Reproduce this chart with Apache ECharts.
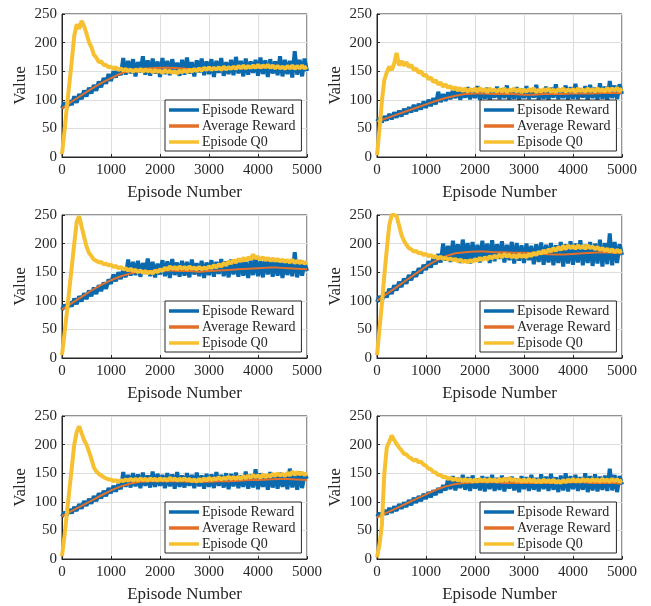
<!DOCTYPE html>
<html>
<head>
<meta charset="utf-8">
<script src="https://cdn.jsdelivr.net/npm/echarts@6/dist/echarts.min.js"></script>
<style>
  html, body { margin: 0; padding: 0; background: #fff; }
  #chart { width: 651px; height: 606px; }
</style>
</head>
<body>
<div id="chart"></div>
<script>
// sampling of the arrays below (episodes between two values)
const rewardStep = 50;
const avgStep = 200;

const xTicks = [0, 1000, 2000, 3000, 4000, 5000];
const yTicks = [0, 50, 100, 150, 200, 250];
const seriesNames = ['Episode Reward', 'Average Reward', 'Episode Q0'];

// ---- panel 1 (top left)
const reward1 = [
  85, 95, 86, 99, 91, 106, 95, 110, 101, 116,
  106, 121, 111, 126, 116, 132, 122, 138, 128, 145,
  133, 150, 139, 155, 143, 173, 144, 168, 146, 171,
  141, 166, 148, 176, 144, 169, 142, 172, 146, 167,
  140, 173, 145, 168, 143, 171, 147, 165, 142, 170,
  144, 174, 146, 166, 141, 169, 148, 172, 143, 167,
  145, 171, 140, 168, 147, 173, 142, 166, 145, 170,
  143, 175, 146, 168, 141, 172, 144, 167, 147, 170,
  142, 174, 145, 169, 140, 171, 146, 167, 143, 176,
  141, 170, 145, 168, 139, 185, 144, 170, 141, 172,
  150
];
const avgReward1 = [85, 97, 108, 119, 129, 138, 146, 151, 154, 155, 156, 156, 155, 154, 154, 154, 155, 155, 156, 156, 156, 157, 156, 155, 155, 156];
const q0_1 = [
  5, 45, 88, 128, 168, 212, 232, 224, 238, 229,
  216, 201, 192, 179, 174, 166, 167, 161, 161, 157,
  158, 154, 157, 152, 155, 151, 154, 150, 153, 149,
  153, 150, 154, 149, 153, 150, 152, 148, 152, 149,
  151, 147, 152, 148, 151, 147, 150, 146, 151, 148,
  152, 148, 153, 149, 154, 150, 155, 151, 156, 152,
  157, 152, 156, 153, 157, 152, 158, 153, 157, 154,
  158, 154, 159, 155, 160, 155, 159, 156, 160, 156,
  161, 156, 160, 157, 161, 156, 160, 155, 159, 155,
  158, 154, 159, 155, 160, 154, 159, 155, 160, 155,
  158
];

// ---- panel 2 (top right)
const reward2 = [
  62, 68, 61, 71, 64, 75, 66, 78, 69, 81,
  71, 84, 75, 87, 78, 91, 80, 93, 83, 97,
  86, 100, 89, 103, 92, 114, 96, 110, 98, 113,
  101, 118, 103, 121, 100, 117, 104, 122, 101, 119,
  103, 124, 100, 118, 102, 121, 99, 117, 104, 123,
  101, 120, 103, 125, 100, 118, 102, 122, 99, 119,
  103, 124, 101, 120, 104, 126, 100, 118, 102, 123,
  100, 121, 104, 127, 101, 119, 103, 125, 100, 122,
  102, 128, 101, 120, 104, 124, 99, 126, 103, 121,
  100, 129, 102, 123, 98, 133, 103, 125, 101, 127,
  110
];
const avgReward2 = [62, 68, 74, 80, 86, 92, 98, 103, 107, 110, 111, 111, 110, 110, 110, 109, 109, 110, 110, 110, 111, 111, 111, 112, 112, 112];
const q0_2 = [
  3, 48, 98, 135, 148, 158, 152, 163, 182, 160,
  168, 160, 166, 157, 161, 152, 155, 147, 150, 142,
  144, 136, 139, 131, 134, 127, 130, 123, 127, 121,
  124, 118, 122, 116, 121, 115, 120, 114, 119, 115,
  120, 114, 121, 115, 119, 113, 120, 115, 118, 114,
  119, 114, 120, 113, 118, 115, 120, 114, 119, 113,
  118, 114, 119, 115, 120, 113, 118, 114, 119, 115,
  120, 114, 118, 113, 119, 115, 120, 114, 118, 115,
  119, 113, 120, 115, 118, 114, 120, 115, 119, 114,
  120, 115, 119, 114, 121, 115, 120, 116, 121, 115,
  120
];

// ---- panel 3 (middle left)
const reward3 = [
  84, 93, 86, 98, 90, 104, 94, 108, 99, 113,
  103, 118, 108, 123, 112, 127, 117, 132, 121, 137,
  130, 146, 134, 150, 138, 155, 141, 172, 144, 168,
  145, 170, 142, 166, 147, 174, 143, 168, 141, 165,
  146, 171, 143, 169, 140, 173, 145, 167, 142, 170,
  144, 168, 141, 172, 146, 166, 143, 170, 140, 167,
  145, 171, 142, 168, 147, 173, 143, 169, 141, 172,
  146, 170, 142, 174, 144, 168, 140, 171, 145, 175,
  143, 169, 141, 176, 146, 170, 142, 173, 144, 168,
  140, 172, 145, 169, 143, 185, 141, 171, 144, 167,
  152
];
const avgReward3 = [85, 96, 107, 118, 128, 136, 143, 148, 151, 152, 153, 153, 152, 152, 151, 152, 153, 154, 155, 156, 157, 158, 158, 157, 156, 155];
const q0_3 = [
  5, 42, 80, 120, 160, 200, 238, 248, 230, 212,
  195, 184, 178, 172, 170, 167, 168, 164, 165, 162,
  163, 159, 161, 157, 159, 155, 157, 153, 156, 152,
  154, 150, 153, 149, 152, 148, 151, 148, 153, 150,
  155, 152, 158, 154, 160, 156, 159, 155, 160, 156,
  159, 155, 160, 156, 158, 155, 159, 155, 158, 156,
  160, 157, 162, 158, 164, 160, 166, 162, 169, 165,
  171, 167, 173, 169, 175, 170, 176, 172, 181, 174,
  177, 172, 176, 171, 175, 170, 174, 170, 173, 169,
  172, 168, 171, 167, 172, 166, 170, 166, 169, 165,
  168
];

// ---- panel 4 (middle right)
const reward4 = [
  98, 108, 100, 114, 106, 121, 112, 127, 118, 133,
  124, 139, 130, 145, 136, 151, 142, 157, 148, 163,
  154, 169, 158, 175, 164, 182, 167, 200, 170, 196,
  168, 205, 172, 199, 166, 207, 171, 201, 165, 203,
  170, 198, 167, 205, 172, 200, 166, 206, 169, 199,
  173, 204, 167, 198, 171, 203, 165, 201, 170, 197,
  166, 200, 171, 196, 164, 199, 168, 202, 163, 198,
  167, 201, 162, 197, 166, 203, 160, 199, 165, 204,
  163, 200, 167, 206, 162, 198, 166, 203, 161, 200,
  165, 207, 160, 201, 164, 218, 162, 203, 166, 199,
  180
];
const avgReward4 = [100, 112, 124, 136, 148, 160, 170, 178, 183, 185, 186, 186, 185, 185, 184, 184, 183, 182, 181, 181, 182, 183, 184, 185, 184, 183];
const q0_4 = [
  5, 50, 95, 145, 190, 232, 250, 250, 248, 232,
  215, 205, 198, 192, 190, 186, 187, 183, 184, 180,
  182, 178, 180, 176, 178, 174, 177, 173, 175, 172,
  174, 171, 173, 169, 172, 168, 170, 167, 171, 168,
  173, 170, 175, 171, 176, 172, 178, 174, 179, 175,
  181, 176, 182, 177, 181, 176, 180, 175, 181, 177,
  180, 176, 182, 178, 184, 180, 186, 182, 188, 184,
  190, 186, 192, 187, 194, 189, 196, 190, 197, 192,
  196, 191, 197, 192, 196, 191, 197, 192, 195, 190,
  194, 189, 192, 187, 191, 186, 190, 185, 189, 186,
  188
];

// ---- panel 5 (bottom left)
const reward5 = [
  74, 82, 77, 87, 80, 91, 84, 96, 88, 101,
  93, 105, 97, 110, 101, 115, 106, 119, 110, 124,
  115, 128, 118, 131, 122, 152, 126, 147, 125, 150,
  127, 148, 124, 151, 128, 146, 125, 153, 126, 149,
  128, 147, 124, 150, 127, 148, 123, 152, 126, 146,
  125, 150, 128, 147, 124, 151, 127, 146, 123, 149,
  126, 148, 124, 152, 128, 147, 125, 150, 122, 149,
  127, 151, 124, 146, 126, 153, 123, 148, 125, 157,
  122, 150, 126, 148, 121, 152, 125, 147, 123, 151,
  126, 149, 122, 158, 125, 150, 121, 153, 124, 148,
  140
];
const avgReward5 = [75, 84, 93, 102, 111, 120, 127, 132, 135, 136, 136, 136, 136, 135, 135, 135, 136, 136, 137, 138, 138, 139, 140, 140, 139, 138];
const q0_5 = [
  5, 40, 80, 120, 160, 200, 222, 232, 220, 208,
  200, 188, 175, 160, 153, 149, 146, 143, 141, 139,
  139, 136, 138, 135, 138, 136, 139, 137, 140, 137,
  140, 137, 141, 138, 140, 137, 141, 138, 140, 137,
  141, 138, 140, 137, 142, 138, 141, 137, 140, 138,
  141, 137, 140, 136, 139, 135, 140, 136, 141, 137,
  142, 138, 141, 139, 143, 139, 142, 140, 144, 140,
  143, 140, 144, 140, 145, 141, 146, 142, 147, 143,
  146, 142, 148, 143, 147, 144, 149, 145, 150, 146,
  149, 145, 151, 146, 153, 147, 152, 148, 151, 147,
  150
];

// ---- panel 6 (bottom right)
const reward6 = [
  74, 80, 75, 85, 78, 89, 81, 92, 84, 96,
  88, 99, 91, 103, 94, 107, 98, 110, 101, 114,
  105, 117, 108, 120, 112, 124, 116, 129, 120, 140,
  122, 145, 120, 142, 124, 147, 121, 143, 119, 146,
  123, 141, 120, 145, 118, 143, 122, 147, 119, 142,
  121, 146, 118, 142, 123, 144, 120, 141, 117, 145,
  122, 143, 119, 147, 121, 142, 118, 148, 122, 144,
  119, 149, 121, 143, 117, 146, 120, 150, 118, 145,
  122, 147, 119, 143, 121, 150, 117, 145, 120, 148,
  118, 144, 121, 146, 119, 158, 120, 147, 117, 145,
  130
];
const avgReward6 = [73, 81, 89, 97, 105, 113, 121, 127, 131, 133, 134, 134, 134, 133, 133, 133, 133, 133, 133, 134, 134, 134, 133, 133, 133, 132];
const q0_6 = [
  3, 25, 60, 150, 195, 205, 216, 208, 201, 195,
  190, 184, 183, 178, 176, 172, 174, 169, 170, 165,
  163, 158, 157, 152, 151, 147, 147, 143, 144, 140,
  142, 138, 141, 137, 140, 136, 140, 136, 139, 135,
  139, 135, 140, 136, 139, 135, 140, 136, 139, 135,
  140, 136, 141, 136, 142, 137, 140, 136, 139, 135,
  139, 135, 140, 135, 139, 134, 138, 134, 139, 135,
  138, 134, 139, 133, 137, 133, 138, 134, 139, 135,
  140, 135, 139, 135, 140, 136, 139, 135, 140, 136,
  139, 135, 140, 136, 139, 135, 140, 136, 139, 135,
  138
];

const panels = [
  { reward: reward1, avg: avgReward1, q0: q0_1 },
  { reward: reward2, avg: avgReward2, q0: q0_2 },
  { reward: reward3, avg: avgReward3, q0: q0_3 },
  { reward: reward4, avg: avgReward4, q0: q0_4 },
  { reward: reward5, avg: avgReward5, q0: q0_5 },
  { reward: reward6, avg: avgReward6, q0: q0_6 }
];

// layout (pixels)
const gridLeft = [62, 377];
const gridTop = [14, 215, 416];
const gridW = 245;
const gridH = 143;

const colors = ['#0b6aad', '#e2702a', '#f6c030'];
const font = 'Liberation Serif';
const ink = '#262626';

function toPairs(values, step) {
    return values.map((v, i) => [i * step, v]);
}

const chart = echarts.init(document.getElementById('chart'), null, { renderer: 'canvas' });

const grids = [], xAxes = [], yAxes = [], legends = [], series = [];

panels.forEach((p, k) => {
    const gx = gridLeft[k % 2];
    const gy = gridTop[Math.floor(k / 2)];

    grids.push({
        left: gx, top: gy, width: gridW, height: gridH,
        show: true, borderColor: ink, borderWidth: 1, backgroundColor: '#fff'
    });

    xAxes.push({
        type: 'value', gridIndex: k,
        min: xTicks[0], max: xTicks[xTicks.length - 1], interval: 1000,
        name: 'Episode Number', nameLocation: 'middle', nameGap: 27,
        nameTextStyle: { fontFamily: font, fontSize: 17, color: ink },
        axisLine: { show: true, onZero: false, lineStyle: { color: ink, width: 1 } },
        axisTick: { show: true, inside: true, length: 3, lineStyle: { color: ink } },
        axisLabel: {
            fontFamily: font, fontSize: 15, color: ink, margin: 6,
            showMaxLabel: true, showMinLabel: true,
            formatter: (v) => String(v)
        },
        splitLine: { show: true, lineStyle: { color: '#dedede', width: 1 } }
    });

    yAxes.push({
        type: 'value', gridIndex: k,
        min: yTicks[0], max: yTicks[yTicks.length - 1], interval: 50,
        name: 'Value', nameLocation: 'middle', nameGap: 33,
        nameTextStyle: { fontFamily: font, fontSize: 17, color: ink },
        axisLine: { show: true, lineStyle: { color: ink, width: 1 } },
        axisTick: { show: true, inside: true, length: 3, lineStyle: { color: ink } },
        axisLabel: { fontFamily: font, fontSize: 15, color: ink, margin: 5, formatter: (v) => String(v) },
        splitLine: { show: true, lineStyle: { color: '#dedede', width: 1 } }
    });

    legends.push({
        orient: 'vertical',
        left: gx + 103, top: gy + 86,
        data: seriesNames,
        icon: 'rect', itemWidth: 30, itemHeight: 3.5, itemGap: 2,
        padding: [3, 6, 2, 4],
        borderColor: ink, borderWidth: 1, backgroundColor: '#fff',
        textStyle: { fontFamily: font, fontSize: 14, color: ink, lineHeight: 14, padding: [0, 0, 0, -2] },
        selectedMode: false
    });

    const base = { type: 'line', xAxisIndex: k, yAxisIndex: k, showSymbol: false, symbol: 'none', clip: true, animation: false };
    series.push(Object.assign({}, base, {
        name: seriesNames[0], color: colors[0],
        data: toPairs(p.reward, rewardStep),
        lineStyle: { width: 4, color: colors[0], join: 'bevel' }
    }));
    series.push(Object.assign({}, base, {
        name: seriesNames[1], color: colors[1],
        data: toPairs(p.avg, avgStep),
        lineStyle: { width: 2, color: colors[1] }
    }));
    series.push(Object.assign({}, base, {
        name: seriesNames[2], color: colors[2],
        data: toPairs(p.q0, rewardStep),
        lineStyle: { width: 4, color: colors[2], join: 'bevel' }
    }));
});

chart.setOption({
    backgroundColor: '#fff',
    animation: false,
    grid: grids,
    xAxis: xAxes,
    yAxis: yAxes,
    legend: legends,
    series: series
});
</script>
</body>
</html>
